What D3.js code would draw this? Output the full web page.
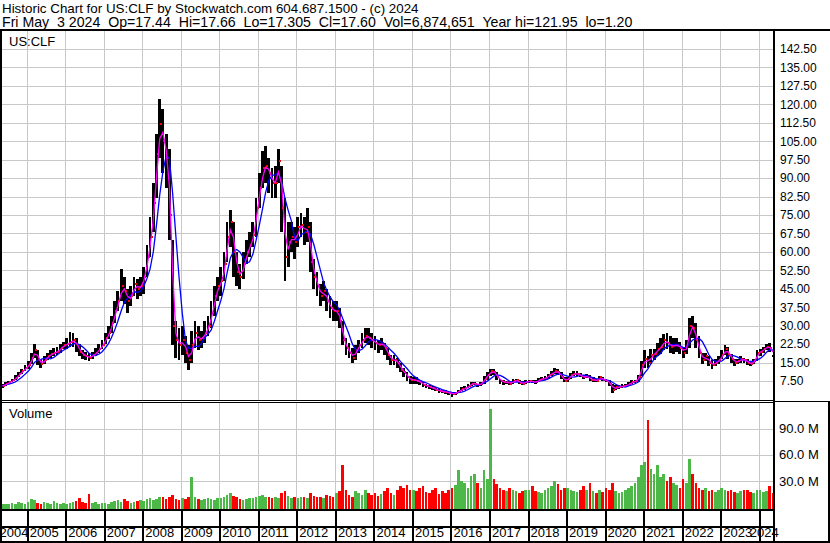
<!DOCTYPE html>
<html>
<head>
<meta charset="utf-8">
<script src="https://cdn.jsdelivr.net/npm/d3@7"></script>
<style>
  body { margin: 0; background: #fff; }
  svg { display: block; font-family: "Liberation Sans", Arial, sans-serif; }
</style>
</head>
<body>
<svg id="chart" width="830" height="543"></svg>
<script>
// Monthly bars, May 2004 .. May 2024
var firstMonth = [2004, 4]

var closes = [
  5.5, 6.4, 7.0, 7.8, 8.8, 10.2, 11.5, 12.8,
  14, 17, 20, 16, 14.5, 16, 17.5, 18.5, 19, 19.5, 21, 22,
  22.5, 23.5, 24, 22, 19.5, 18, 17.5, 17, 18, 19, 20.5, 22,
  25, 27, 31, 36, 40, 46, 44, 40, 42, 47, 45, 46,
  50, 58, 66, 80, 100, 112, 105, 98, 75, 30, 24, 22,
  24, 19, 16, 22, 27, 24, 25, 27, 30, 35, 42, 46,
  48, 55, 66, 72, 60, 52, 50, 55, 60, 63, 67, 78,
  86, 94, 95, 92, 88, 88, 97, 78, 58, 64, 66, 64,
  70, 71, 68, 70, 56, 50, 46, 42, 44, 40, 37, 36,
  36, 32, 24, 21, 19, 17, 20, 22, 24, 26, 25, 24,
  23, 22, 23, 21, 18, 16, 16, 15, 12, 11, 9, 8,
  8, 7.5, 7, 6, 5.5, 5, 4.5, 4, 3.5, 3.2, 3, 2.5,
  2.2, 2.6, 3.5, 4.2, 4.5, 5.5, 6.5, 6.5, 5.8, 6.5, 8.5, 10,
  11.5, 11, 9, 7.5, 7, 7, 6.5, 7.5, 7.8, 6.8, 6.5, 7.2,
  7.5, 7.2, 7, 8, 8.5, 8.5, 10, 10.5, 11.5, 11, 9, 7.5,
  8.5, 10, 10.5, 10.5, 9.5, 9, 9.5, 8, 8, 7.5, 9, 8,
  7.5, 6.5, 4, 5, 5, 5.5, 5.5, 6.5, 7, 7.5, 9, 14,
  16.5, 15, 18, 18.5, 20.5, 21.5, 24, 23, 21.5, 22, 22, 21,
  19, 22, 30, 29, 24, 19, 16, 17.5, 15, 14, 15, 16,
  18, 20.5, 18.5, 16.5, 15, 15.5, 16.5, 16, 15, 14.5, 15.5, 19,
  19.5, 20.5, 21.5, 21, 17.6
]

var highs = [
  6.2, 7.0, 7.6, 8.5, 9.8, 11.2, 12.6, 14.0,
  15.5, 19, 22.5, 20, 16.5, 17.5, 19, 20, 21, 21.5, 22.5, 23.5,
  25, 27.5, 27, 25, 22.5, 20, 19.5, 19, 19.5, 21, 22.5, 24,
  27, 30, 34, 40, 44, 53, 50, 45, 46, 50, 49, 50,
  54, 63, 74, 88, 108, 122, 118, 108, 102, 65, 32, 29,
  30, 26, 22, 28, 32, 30, 28, 32, 34, 40, 46, 50,
  54, 60, 72, 77, 72, 60, 55, 60, 65, 68, 72, 82,
  92, 101, 103, 98, 94, 95, 102, 95, 82, 72, 72, 70,
  74, 76, 74, 78, 72, 57, 52, 47, 48, 45, 42, 40,
  40, 37, 32, 25, 23, 21, 22, 24, 27, 29, 29, 27,
  26, 24, 25, 23, 21, 18, 18, 17, 15, 13, 11, 9.5,
  9, 9, 8, 7, 6.5, 6, 5.5, 5, 4.5, 4, 4, 3.2,
  2.8, 3.2, 4, 5, 5.5, 6.2, 7.2, 7.2, 6.5, 7.2, 9.5, 11,
  12.5, 12.5, 11, 8.5, 8, 7.5, 7.3, 8.5, 8.5, 8, 7.5, 7.8,
  8, 8, 8, 8.7, 9.2, 9.5, 10.5, 11.5, 12.8, 12.5, 11, 9,
  9, 10.8, 11.5, 11.5, 10.8, 10, 10.5, 10, 9, 8.5, 9.5, 9,
  8.5, 8, 6.5, 6, 6, 6.5, 6.2, 7.2, 7.8, 8, 10, 15.5,
  20, 17.5, 20.5, 20.5, 23, 25, 26.5, 27, 26, 25, 25, 23.5,
  21, 24, 33, 34, 31, 26, 19, 19, 17.5, 16, 16.5, 17.5,
  20, 22, 21.5, 18.5, 16.5, 16.5, 17.5, 17, 16.5, 15.5, 16.5, 20,
  20.5, 21.5, 22.5, 23, 18
]

var lows = [
  4.8, 5.6, 6.3, 7.0, 7.9, 9.0, 10.4, 11.6,
  12.5, 14.5, 17, 14, 13, 14.5, 16, 17, 17.5, 18, 19, 20.5,
  20.5, 21.5, 21.5, 19.5, 17.5, 16.5, 16, 15.5, 16.5, 17.5, 19, 20.5,
  22.5, 24.5, 27, 31, 36, 40, 39, 35, 38, 42, 41, 42,
  43, 50, 58, 68, 82, 98, 92, 86, 65, 22, 17, 16,
  18, 15, 12, 15, 21, 20, 21, 23, 26, 29, 34, 40,
  42, 48, 56, 62, 50, 46, 45, 49, 55, 58, 62, 66,
  78, 86, 88, 84, 82, 82, 88, 68, 48, 54, 60, 57,
  62, 66, 63, 64, 52, 45, 42, 38, 40, 36, 33, 32,
  32, 29, 22, 18, 17, 15, 16, 19, 21, 23, 22, 21,
  20, 19, 20, 18, 16, 14, 14, 13, 11, 9, 7.5, 6.5,
  6.5, 6.5, 6, 5, 4.8, 4.2, 3.8, 3.3, 2.8, 2.6, 2.4, 1.8,
  1.2, 1.8, 2.6, 3.4, 3.8, 4.5, 5.5, 5.8, 5, 5.6, 6.5, 8,
  9.5, 10, 8, 6.5, 6, 6.2, 6, 6.5, 7, 6.2, 6, 6.5,
  6.8, 6.8, 6.5, 7.2, 7.8, 7.8, 8.5, 9.5, 10.5, 10, 8.5, 7,
  7.3, 8.5, 9.5, 9.5, 9, 8.5, 8.7, 7.5, 7.2, 7, 7.8, 7.5,
  7, 5.5, 2.6, 3.8, 4.2, 4.8, 5, 5.5, 6.2, 6.8, 7.2, 9.5,
  13, 13, 14.5, 16, 17.5, 18.5, 20, 20.5, 19, 18.5, 19.5, 18.5,
  17, 18.5, 21, 25, 21, 17, 14.5, 15.5, 13.5, 12.5, 13.5, 14.5,
  16.5, 18, 16.5, 15, 13.8, 14.5, 15, 15, 14, 13.5, 14.5, 15.5,
  17.5, 19, 20, 19.5, 17.2
]

// volume in millions of shares
var volumes = [
  3, 4, 3, 5, 4, 6, 5, 4,
  6, 9, 8, 5, 4, 6, 5, 4, 7, 5, 4, 5,
  4, 5, 6, 7, 10, 6, 5, 15, 5, 6, 4, 5,
  5, 4, 6, 7, 8, 6, 9, 7, 5, 6, 7, 8,
  7, 9, 10, 8, 9, 11, 12, 9, 11, 14, 9, 8,
  10, 9, 12, 34, 11, 9, 8, 9, 10, 9, 8, 10,
  10, 12, 14, 16, 13, 11, 9, 8, 9, 10, 10, 12,
  13, 14, 12, 11, 10, 12, 10, 16, 18, 13, 10, 11,
  10, 12, 11, 10, 16, 13, 12, 11, 10, 14, 13, 12,
  16, 18, 48, 20, 14, 12, 18, 16, 14, 20, 16, 14,
  16, 13, 15, 18, 22, 16, 14, 20, 24, 22, 25, 19,
  20, 18, 22, 24, 17, 16, 20, 22, 15, 18, 16, 20,
  22, 25, 42, 30, 28, 22, 36, 38, 28, 22, 42, 32,
  112, 32, 26, 22, 20, 18, 22, 20, 18, 16, 18, 19,
  20, 24, 18, 17, 16, 19, 22, 24, 30, 26, 20, 22,
  22, 20, 18, 17, 19, 24, 20, 28, 18, 16, 20, 17,
  22, 20, 28, 18, 16, 17, 19, 22, 24, 28, 34, 48,
  52, 100, 44, 38, 48, 34, 38, 30, 34, 28, 25, 22,
  32, 28, 55, 38, 28, 22, 20, 22, 18, 19, 17, 20,
  22, 20, 18, 19, 17, 16, 18, 20, 19, 17, 16, 20,
  19, 17, 18, 24, 16
]

var yearLabels = ['2004', '2005', '2006', '2007', '2008', '2009', '2010', '2011', '2012', '2013',
  '2014', '2015', '2016', '2017', '2018', '2019', '2020', '2021', '2022', '2023', '2024']
var priceTicks = [7.5, 15, 22.5, 30, 37.5, 45, 52.5, 60, 67.5, 75, 82.5, 90, 97.5,
  105, 112.5, 120, 127.5, 135, 142.5]
var volumeTicks = [30, 60, 90]
var headerLines = [
  'Historic Chart for US:CLF by Stockwatch.com 604.687.1500 - (c) 2024',
  'Fri May  3 2024  Op=17.44  Hi=17.66  Lo=17.305  Cl=17.60  Vol=6,874,651  Year hi=121.95  lo=1.20'
]

const width = 830
const height = 543
const plotLeft = 2
const plotRight = 773
const priceTop = 31
const priceBottom = 400
const volTop = 403
const volBottom = 509

var svg = d3.select('#chart')

var bars = closes.map(function (c, i) {
  return {
    date: new Date(firstMonth[0], firstMonth[1] + i, 15),
    close: c,
    high: highs[i],
    low: lows[i],
    vol: volumes[i],
    up: i === 0 ? true : c >= closes[i - 1],
    ma1: d3.mean(closes.slice(Math.max(0, i - 1), i + 1)),
    ma2: d3.mean(closes.slice(Math.max(0, i - 4), i + 1))
  }
})
var yearDates = yearLabels.map(function (y) { return new Date(+y, 0, 1) })

// scales
var x = d3.scaleTime()
  .domain([new Date(2005, 0, 1), new Date(2024, 0, 1)])
  .range([26.7, 758.7])
var y = d3.scaleLinear().domain([0, 150]).range([399.5, 30.5])
var yv = d3.scaleLinear().domain([0, 90]).range([507, 428.5])

function px (v) { return Math.round(v) + 0.5 }

svg.append('rect').attr('width', width).attr('height', height).attr('fill', '#fff')

// clip areas
var defs = svg.append('defs')
defs.append('clipPath').attr('id', 'clipPrice').append('rect')
  .attr('x', plotLeft).attr('y', priceTop).attr('width', plotRight - plotLeft).attr('height', priceBottom - priceTop)
defs.append('clipPath').attr('id', 'clipVol').append('rect')
  .attr('x', plotLeft).attr('y', volTop).attr('width', plotRight - plotLeft).attr('height', volBottom - volTop)

// grid
var grid = svg.append('g').attr('stroke', '#c8c8c8').attr('stroke-width', 1).attr('shape-rendering', 'crispEdges')
grid.selectAll('.hp').data(priceTicks).enter().append('line')
  .attr('x1', plotLeft).attr('x2', plotRight)
  .attr('y1', function (d) { return px(y(d)) }).attr('y2', function (d) { return px(y(d)) })
grid.selectAll('.hv').data(volumeTicks).enter().append('line')
  .attr('x1', plotLeft).attr('x2', plotRight)
  .attr('y1', function (d) { return px(yv(d)) }).attr('y2', function (d) { return px(yv(d)) })
grid.selectAll('.vp').data(yearDates.slice(1)).enter().append('line')
  .attr('x1', function (d) { return px(x(d)) }).attr('x2', function (d) { return px(x(d)) })
  .attr('y1', priceTop).attr('y2', priceBottom)
grid.selectAll('.vv').data(yearDates.slice(1)).enter().append('line')
  .attr('x1', function (d) { return px(x(d)) }).attr('x2', function (d) { return px(x(d)) })
  .attr('y1', volTop).attr('y2', volBottom)

// price bars
var price = svg.append('g').attr('clip-path', 'url(#clipPrice)')
price.append('g').attr('fill', '#000').attr('shape-rendering', 'crispEdges')
  .selectAll('rect').data(bars).enter().append('rect')
  .attr('x', function (d) { return x(d.date) - 1.4 })
  .attr('width', 2.8)
  .attr('y', function (d) { return y(d.high) })
  .attr('height', function (d) { return Math.max(1, y(d.low) - y(d.high)) })
price.append('g').attr('fill', '#ff0000').attr('shape-rendering', 'crispEdges')
  .selectAll('rect').data(bars).enter().append('rect')
  .attr('x', function (d) { return x(d.date) + 0.6 })
  .attr('width', 2)
  .attr('y', function (d) { return y(d.close) - 1 })
  .attr('height', 2)

// moving averages
price.append('path').datum(bars)
  .attr('fill', 'none').attr('stroke', '#0000ff').attr('stroke-width', 1.3)
  .attr('d', d3.line().x(function (d) { return x(d.date) }).y(function (d) { return y(d.ma2) }))
price.append('path').datum(bars)
  .attr('fill', 'none').attr('stroke', '#ff00ff').attr('stroke-width', 1.3)
  .attr('d', d3.line().x(function (d) { return x(d.date) }).y(function (d) { return y(d.ma1) }))

// volume bars
svg.append('g').attr('clip-path', 'url(#clipVol)').attr('shape-rendering', 'crispEdges')
  .selectAll('rect').data(bars).enter().append('rect')
  .attr('x', function (d) { return x(d.date) - 1.3 })
  .attr('width', 2.6)
  .attr('y', function (d) { return yv(d.vol) })
  .attr('height', function (d) { return volBottom - yv(d.vol) })
  .attr('fill', function (d) { return d.up ? '#4cb848' : '#ff0000' })

// frame lines
var frame = svg.append('g').attr('fill', '#000').attr('shape-rendering', 'crispEdges')
frame.append('rect').attr('x', 0).attr('y', 29).attr('width', width).attr('height', 2)
frame.append('rect').attr('x', 0).attr('y', 29).attr('width', 2).attr('height', height - 29)
frame.append('rect').attr('x', plotRight).attr('y', 29).attr('width', 2).attr('height', height - 29)
frame.append('rect').attr('x', 0).attr('y', 400).attr('width', plotRight).attr('height', 1)
frame.append('rect').attr('x', 0).attr('y', 402).attr('width', plotRight).attr('height', 1)
frame.append('rect').attr('x', plotRight).attr('y', 401).attr('width', width - plotRight).attr('height', 1)
frame.append('rect').attr('x', 0).attr('y', volBottom).attr('width', plotRight).attr('height', 2)
frame.append('rect').attr('x', 0).attr('y', 526).attr('width', plotRight).attr('height', 2)
frame.append('rect').attr('x', 0).attr('y', 541).attr('width', width).attr('height', 2)
frame.append('rect').attr('x', width - 2).attr('y', 401).attr('width', 2).attr('height', height - 401)
frame.selectAll('.yd').data(yearDates.slice(1)).enter().append('rect')
  .attr('x', function (d) { return Math.round(x(d)) }).attr('width', 2)
  .attr('y', volBottom).attr('height', height - volBottom)

// header: size each line so it spans the same width as in the original
var headerWidths = [417, 631]
svg.append('g').selectAll('text').data(headerLines).enter().append('text')
  .attr('x', 2)
  .attr('y', function (d, i) { return 13 + i * 14 })
  .attr('font-size', '14px')
  .attr('fill', '#000')
  .text(function (d) { return d.replace(/ /g, '\u00a0') })
  .each(function (d, i) {
    var w = this.getComputedTextLength()
    if (w > 0) d3.select(this).attr('font-size', (14 * headerWidths[i] / w).toFixed(2) + 'px')
  })

svg.append('text').attr('x', 9).attr('y', 46).attr('font-size', '13px').text('US:CLF')
svg.append('text').attr('x', 9).attr('y', 418).attr('font-size', '13px').text('Volume')

// price axis
var priceAxis = svg.append('g')
  .attr('transform', 'translate(' + (plotRight + 5) + ',0)')
  .call(d3.axisRight(y).tickValues(priceTicks).tickSize(0).tickPadding(2).tickFormat(d3.format('.2f')))
priceAxis.select('.domain').remove()
priceAxis.selectAll('text').attr('font-size', '12px').attr('font-family', null).attr('fill', '#000')

// volume axis
var volAxis = svg.append('g')
  .attr('transform', 'translate(' + (plotRight + 4) + ',0)')
  .call(d3.axisRight(yv).tickValues(volumeTicks).tickSize(0).tickPadding(2)
    .tickFormat(function (d) { return d3.format('.1f')(d) + ' M' }))
volAxis.select('.domain').remove()
volAxis.selectAll('text').attr('font-size', '13px').attr('font-family', null).attr('fill', '#000')

// year axis
var yearAxis = svg.append('g')
  .attr('transform', 'translate(0,528)')
  .call(d3.axisBottom(x).tickValues(yearDates).tickSize(0).tickPadding(0)
    .tickFormat(function (d, i) { return yearLabels[i] }))
yearAxis.select('.domain').remove()
yearAxis.selectAll('text')
  .attr('font-size', '13px').attr('font-family', null).attr('fill', '#000')
  .attr('text-anchor', 'start')
  .attr('dx', function (d, i) {
    if (i === 0) return -x(d) - 1
    if (i === yearLabels.length - 1) return -9.5
    return 2.5
  })
  .attr('dy', '0.71em')
</script>
</body>
</html>
